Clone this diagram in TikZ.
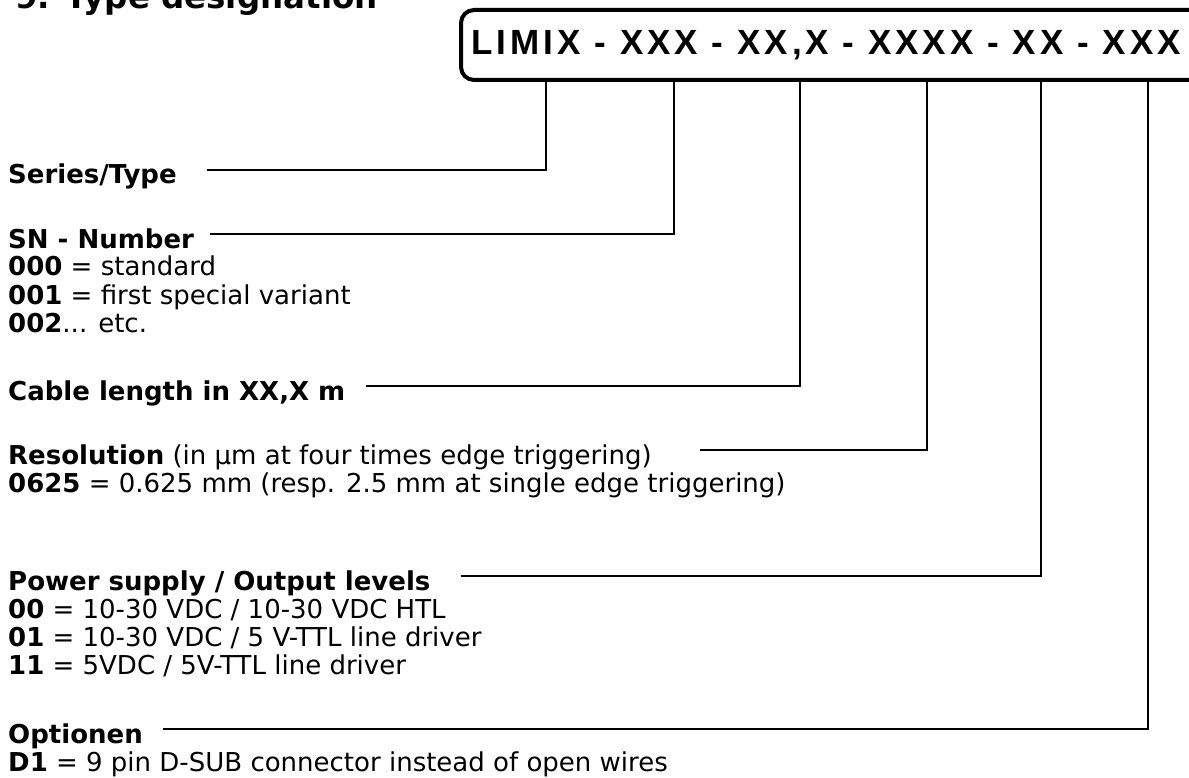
\documentclass[tikz,border=0pt]{standalone}
\usepackage{fontspec}
\setmainfont{DejaVu Sans}
\newfontfamily\codefont{Liberation Sans}[LetterSpace=11.5]
\usetikzlibrary{positioning}

\tikzset{
  lbl/.style={anchor=base west, inner sep=0pt, font=\fontsize{26}{30}\selectfont},
  head/.style={lbl, font=\fontsize{26}{30}\selectfont\bfseries},
  conn/.style={line width=1.8pt},
}

\begin{document}
\begin{tikzpicture}[x=1pt, y=-1pt]
    \useasboundingbox (0,0) rectangle (1189,778);
    \clip (0,0) rectangle (1189,778);

    % Heading, cut off at the top of the page
    \node[anchor=base west, inner sep=0pt, font=\fontsize{32.5}{38}\selectfont\bfseries] (title) at (15,9) {9. Type designation};

    % Code box
    \draw[line width=4pt, rounded corners=13pt] (461,10) rectangle (1230,80);
    \node[anchor=base east, inner sep=0pt, font=\codefont\bfseries\fontsize{35}{42}\selectfont] (code) at (1181,55) {LIMIX - XXX - XX,X - XXXX - XX - XXX};

    % Taps under the box
    \coordinate (t1) at (546,80);
    \coordinate (t2) at (674,80);
    \coordinate (t3) at (800,80);
    \coordinate (t4) at (927,80);
    \coordinate (t5) at (1041,80);
    \coordinate (t6) at (1148,80);

    % Series/Type
    \node[head] (series) at (8,184) {Series/Type};
    \draw[conn] ([xshift=30pt, yshift=14pt]series.base east) -| (t1);

    % SN - Number
    \node[head] (sn) at (8,248) {SN - Number};
    \node[lbl] (sn0) at (8,276) {\textbf{000} = standard};
    \node[lbl] (sn1) at (8,304) {\textbf{001} = first special variant};
    \node[lbl] (sn2) at (8,332) {\textbf{002}... etc.};
    \draw[conn] ([xshift=16pt, yshift=14pt]sn.base east) -| (t2);

    % Cable length
    \node[head] (cable) at (8,400) {Cable length in XX,X m};
    \draw[conn] ([xshift=20pt, yshift=14pt]cable.base east) -| (t3);

    % Resolution
    \node[lbl] (res) at (8,464) {\textbf{Resolution} (in µm at four times edge triggering)};
    \node[lbl] (res0) at (8,492) {\textbf{0625} = 0.625 mm (resp. 2.5 mm at single edge triggering)};
    \draw[conn] ([xshift=48pt, yshift=14pt]res.base east) -| (t4);

    % Power supply / Output levels
    \node[head] (power) at (8,590) {Power supply / Output levels};
    \node[lbl] (pw0) at (8,618) {\textbf{00} = 10-30 VDC / 10-30 VDC HTL};
    \node[lbl] (pw1) at (8,646) {\textbf{01} = 10-30 VDC / 5 V-TTL line driver};
    \node[lbl] (pw2) at (8,674) {\textbf{11} = 5VDC / 5V-TTL line driver};
    \draw[conn] ([xshift=30pt, yshift=14pt]power.base east) -| (t5);

    % Optionen
    \node[head] (opt) at (8,743) {Optionen};
    \node[lbl] (opt0) at (8,771) {\textbf{D1} = 9 pin D-SUB connector instead of open wires};
    \draw[conn] ([xshift=20pt, yshift=14pt]opt.base east) -| (t6);
\end{tikzpicture}
\end{document}
